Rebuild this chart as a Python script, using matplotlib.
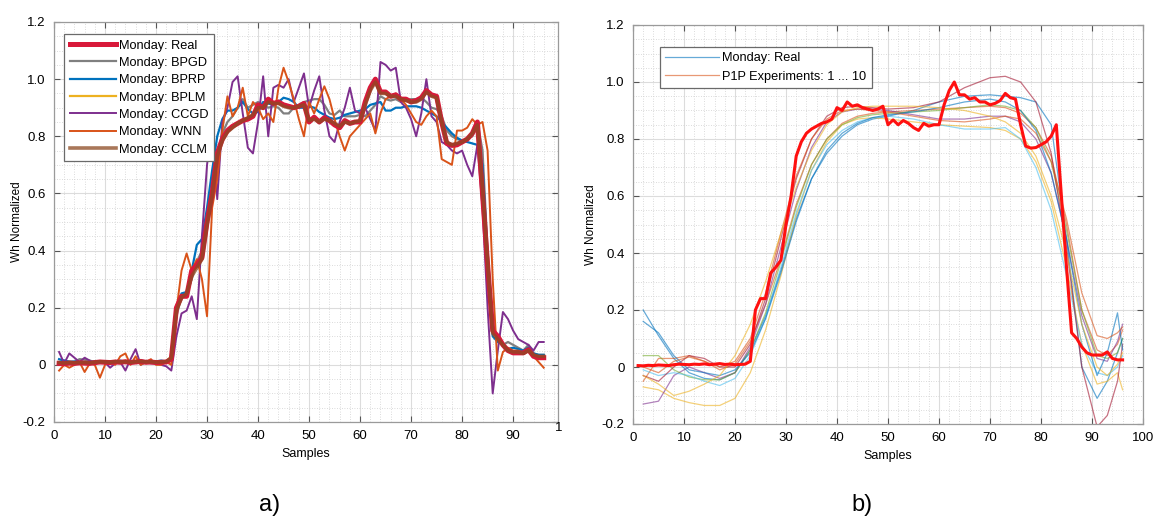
import numpy as np
import matplotlib
matplotlib.use("Agg")
import matplotlib.pyplot as plt
from matplotlib.ticker import MultipleLocator

plt.rcParams['font.family'] = ['Liberation Sans', 'DejaVu Sans']

# ---------------- panel a) data (samples 1..96) ----------------
samples = list(range(1, 97))

real = [0.005, 0.004, 0.006, 0.005, 0.007, 0.006, 0.005, 0.008, 0.010, 0.009, 0.008,
        0.010, 0.009, 0.011, 0.008, 0.010, 0.012, 0.009, 0.010, 0.008, 0.009, 0.010,
        0.02, 0.20, 0.24, 0.24, 0.33, 0.35, 0.375, 0.50, 0.60, 0.74, 0.79, 0.82, 0.835,
        0.845, 0.855, 0.86, 0.87, 0.91, 0.90, 0.93, 0.915, 0.92, 0.91, 0.905, 0.90,
        0.905, 0.915, 0.85, 0.867, 0.85, 0.865, 0.855, 0.84, 0.83, 0.855, 0.845, 0.85,
        0.85, 0.92, 0.97, 1.00, 0.955, 0.955, 0.94, 0.945, 0.93, 0.93, 0.92, 0.925,
        0.935, 0.96, 0.945, 0.94, 0.85, 0.775, 0.768, 0.77, 0.78, 0.79, 0.81, 0.85,
        0.60, 0.35, 0.12, 0.10, 0.07, 0.05, 0.042, 0.042, 0.042, 0.053, 0.03, 0.025, 0.025]

bpgd = [0.010, 0.015, 0.012, 0.010, 0.020, 0.018, 0.015, 0.010, 0.008, 0.010, 0.012,
        0.010, 0.008, 0.010, 0.012, 0.010, 0.008, 0.010, 0.012, 0.010, 0.008, 0.010,
        0.02, 0.17, 0.24, 0.25, 0.30, 0.36, 0.40, 0.50, 0.62, 0.74, 0.81, 0.85, 0.87,
        0.90, 0.93, 0.90, 0.91, 0.92, 0.91, 0.90, 0.905, 0.90, 0.88, 0.88, 0.90, 0.91,
        0.92, 0.925, 0.93, 0.93, 0.91, 0.88, 0.875, 0.89, 0.87, 0.87, 0.87, 0.875,
        0.87, 0.89, 0.91, 0.94, 0.93, 0.925, 0.93, 0.92, 0.925, 0.93, 0.93, 0.935,
        0.92, 0.90, 0.895, 0.87, 0.82, 0.80, 0.79, 0.785, 0.79, 0.80, 0.85, 0.75,
        0.40, 0.12, 0.09, 0.07, 0.08, 0.07, 0.06, 0.05, 0.07, 0.04, 0.035, 0.035]

bprp = [0.020, 0.015, 0.010, 0.012, 0.010, 0.008, 0.010, 0.012, 0.010, 0.008, 0.010,
        0.012, 0.015, 0.010, 0.012, 0.010, 0.015, 0.012, 0.010, 0.012, 0.015, 0.012,
        0.02, 0.20, 0.25, 0.255, 0.33, 0.42, 0.44, 0.55, 0.68, 0.80, 0.86, 0.89, 0.89,
        0.90, 0.92, 0.895, 0.88, 0.885, 0.92, 0.915, 0.91, 0.92, 0.935, 0.93, 0.92,
        0.90, 0.90, 0.905, 0.90, 0.885, 0.875, 0.865, 0.86, 0.865, 0.875, 0.88, 0.885,
        0.89, 0.895, 0.91, 0.915, 0.92, 0.89, 0.89, 0.90, 0.90, 0.905, 0.905, 0.905,
        0.90, 0.89, 0.88, 0.87, 0.85, 0.83, 0.81, 0.795, 0.785, 0.78, 0.775, 0.77,
        0.70, 0.38, 0.10, 0.08, 0.07, 0.056, 0.06, 0.055, 0.05, 0.06, 0.04, 0.035, 0.035]

bplm = [0.006, 0.005, 0.007, 0.006, 0.008, 0.007, 0.006, 0.009, 0.010, 0.010, 0.009,
        0.011, 0.010, 0.012, 0.009, 0.011, 0.012, 0.010, 0.011, 0.009, 0.010, 0.011,
        0.03, 0.21, 0.24, 0.245, 0.32, 0.35, 0.38, 0.51, 0.61, 0.73, 0.79, 0.815, 0.83,
        0.845, 0.855, 0.865, 0.875, 0.905, 0.90, 0.925, 0.915, 0.915, 0.91, 0.905, 0.90,
        0.905, 0.91, 0.855, 0.865, 0.85, 0.862, 0.855, 0.842, 0.835, 0.852, 0.845, 0.85,
        0.852, 0.915, 0.965, 0.99, 0.955, 0.95, 0.94, 0.942, 0.93, 0.928, 0.92, 0.922,
        0.935, 0.955, 0.945, 0.935, 0.85, 0.78, 0.77, 0.772, 0.78, 0.79, 0.81, 0.845,
        0.62, 0.36, 0.12, 0.10, 0.072, 0.052, 0.045, 0.044, 0.043, 0.052, 0.032, 0.03, 0.03]

ccgd = [0.045, 0.005, 0.040, 0.025, 0.010, 0.025, 0.015, 0.000, 0.012, 0.008, -0.010,
        0.005, 0.010, -0.020, 0.020, 0.055, 0.000, 0.010, 0.005, 0.005, 0.000, -0.005,
        -0.02, 0.10, 0.18, 0.19, 0.24, 0.16, 0.45, 0.70, 0.85, 0.58, 0.85, 0.90, 0.99,
        1.01, 0.88, 0.76, 0.74, 0.85, 1.01, 0.80, 0.97, 0.98, 0.97, 1.00, 0.92, 0.97,
        1.02, 0.90, 0.96, 1.01, 0.89, 0.80, 0.78, 0.85, 0.90, 0.97, 0.89, 0.88, 0.90,
        0.86, 0.82, 1.06, 1.05, 1.03, 1.04, 0.92, 0.90, 0.86, 0.80, 0.88, 1.00, 0.87,
        0.85, 0.78, 0.77, 0.75, 0.74, 0.75, 0.70, 0.66, 0.77, 0.55, 0.20, -0.10, 0.05,
        0.185, 0.16, 0.12, 0.09, 0.08, 0.07, 0.05, 0.08, 0.08]

wnn = [-0.020, 0.000, -0.010, 0.000, 0.010, -0.025, 0.005, 0.000, -0.045, 0.000, 0.010,
       0.000, 0.030, 0.040, 0.000, 0.030, 0.000, 0.010, 0.020, 0.000, 0.000, 0.010,
       0.00, 0.19, 0.33, 0.39, 0.33, 0.37, 0.30, 0.17, 0.55, 0.65, 0.82, 0.94, 0.87,
       0.90, 0.97, 0.87, 0.92, 0.90, 0.86, 0.88, 0.85, 0.97, 1.04, 0.99, 0.93, 0.86,
       0.80, 0.92, 0.88, 0.93, 0.975, 0.93, 0.86, 0.80, 0.75, 0.80, 0.82, 0.84, 0.86,
       0.88, 0.81, 0.88, 0.93, 0.94, 0.95, 0.93, 0.91, 0.88, 0.85, 0.84, 0.87, 0.89,
       0.87, 0.72, 0.71, 0.70, 0.82, 0.82, 0.83, 0.86, 0.84, 0.85, 0.75, 0.30, -0.02,
       0.045, 0.06, 0.05, 0.05, 0.04, 0.05, 0.03, 0.01, -0.01]

cclm = [0.008, 0.006, 0.008, 0.007, 0.008, 0.008, 0.007, 0.009, 0.011, 0.010, 0.009,
        0.011, 0.010, 0.011, 0.009, 0.011, 0.012, 0.010, 0.011, 0.009, 0.010, 0.011,
        0.025, 0.19, 0.235, 0.25, 0.31, 0.34, 0.37, 0.49, 0.59, 0.73, 0.785, 0.815, 0.83,
        0.845, 0.855, 0.865, 0.875, 0.90, 0.90, 0.92, 0.915, 0.915, 0.905, 0.90, 0.90,
        0.905, 0.91, 0.855, 0.86, 0.85, 0.86, 0.855, 0.845, 0.835, 0.85, 0.845, 0.85,
        0.855, 0.91, 0.96, 0.99, 0.95, 0.95, 0.94, 0.94, 0.93, 0.925, 0.92, 0.92,
        0.93, 0.955, 0.94, 0.935, 0.85, 0.78, 0.77, 0.775, 0.78, 0.79, 0.81, 0.84,
        0.62, 0.36, 0.11, 0.09, 0.07, 0.05, 0.045, 0.045, 0.04, 0.05, 0.035, 0.03, 0.03]

series_a = ["Monday: Real", "Monday: BPGD", "Monday: BPRP", "Monday: BPLM",
            "Monday: CCGD", "Monday: WNN", "Monday: CCLM"]

# ---------------- panel b) data ----------------
x_exp = [2, 5, 8, 11, 14, 17, 20, 23, 26, 29, 32, 35, 38, 41, 44, 47, 50, 55, 60, 65,
         70, 73, 76, 79, 82, 85, 88, 91, 93, 95, 96]

exp1 = [0.20, 0.11, 0.03, -0.02, -0.04, -0.045, -0.02, 0.06, 0.18, 0.34, 0.52, 0.66,
        0.75, 0.81, 0.85, 0.87, 0.88, 0.90, 0.93, 0.95, 0.955, 0.95, 0.945, 0.93, 0.85,
        0.45, 0.0, -0.11, -0.05, 0.05, 0.10]
exp2 = [-0.05, 0.03, 0.03, 0.04, 0.02, -0.01, 0.01, 0.09, 0.22, 0.38, 0.57, 0.71,
        0.80, 0.855, 0.88, 0.89, 0.895, 0.90, 0.905, 0.91, 0.915, 0.91, 0.89, 0.84, 0.74,
        0.50, 0.20, 0.06, 0.04, 0.08, 0.13]
exp3 = [-0.07, -0.08, -0.11, -0.125, -0.135, -0.135, -0.11, -0.02, 0.13, 0.32, 0.53,
        0.69, 0.79, 0.85, 0.87, 0.875, 0.87, 0.86, 0.85, 0.845, 0.84, 0.83, 0.80, 0.72,
        0.58, 0.35, 0.08, -0.06, -0.05, -0.02, -0.08]
exp4 = [-0.13, -0.12, -0.03, 0.0, -0.02, -0.04, -0.02, 0.07, 0.22, 0.42, 0.62, 0.77,
        0.86, 0.895, 0.905, 0.905, 0.90, 0.885, 0.87, 0.87, 0.88, 0.88, 0.86, 0.80, 0.68,
        0.45, 0.18, 0.03, 0.02, 0.09, 0.15]
exp5 = [0.04, 0.04, -0.01, -0.035, -0.045, -0.045, -0.02, 0.06, 0.19, 0.37, 0.56, 0.71,
        0.80, 0.85, 0.875, 0.885, 0.89, 0.895, 0.90, 0.91, 0.92, 0.915, 0.90, 0.84, 0.72,
        0.48, 0.20, 0.04, 0.03, 0.05, 0.10]
exp6 = [-0.01, -0.03, -0.02, -0.03, -0.05, -0.065, -0.04, 0.04, 0.17, 0.35, 0.54, 0.69,
        0.78, 0.83, 0.86, 0.875, 0.88, 0.87, 0.85, 0.835, 0.835, 0.84, 0.80, 0.70, 0.55,
        0.32, 0.08, -0.02, -0.03, 0.0, 0.04]
exp7 = [-0.03, -0.05, 0.0, 0.04, 0.03, 0.0, 0.0, 0.08, 0.24, 0.45, 0.66, 0.80, 0.88,
        0.91, 0.915, 0.91, 0.905, 0.91, 0.93, 0.98, 1.015, 1.02, 1.0, 0.93, 0.75, 0.42,
        0.0, -0.21, -0.17, -0.05, 0.08]
exp8 = [0.16, 0.12, 0.04, -0.01, -0.02, -0.03, -0.01, 0.05, 0.17, 0.33, 0.51, 0.66,
        0.76, 0.82, 0.855, 0.875, 0.885, 0.895, 0.91, 0.93, 0.94, 0.93, 0.90, 0.83, 0.68,
        0.45, 0.15, -0.03, 0.05, 0.19, 0.06]
exp9 = [0.0, -0.02, 0.02, 0.035, 0.02, 0.0, 0.02, 0.10, 0.26, 0.47, 0.67, 0.80, 0.87,
        0.90, 0.905, 0.90, 0.895, 0.88, 0.865, 0.86, 0.87, 0.88, 0.87, 0.82, 0.72, 0.52,
        0.26, 0.11, 0.10, 0.12, 0.14]
exp10 = [-0.03, -0.06, -0.10, -0.085, -0.06, -0.03, 0.04, 0.15, 0.30, 0.47, 0.63, 0.76,
         0.85, 0.895, 0.91, 0.915, 0.915, 0.915, 0.91, 0.90, 0.88, 0.86, 0.82, 0.74,
         0.60, 0.40, 0.15, 0.0, -0.03, 0.01, 0.05]
experiments = [exp1, exp2, exp3, exp4, exp5, exp6, exp7, exp8, exp9, exp10]

exp_colors = ["#0072BD", "#D95319", "#EDB120", "#7E2F8E", "#77AC30",
              "#4DBEEE", "#A2142F", "#0072BD", "#D95319", "#EDB120"]


def style_axes(ax, xmax):
    ax.set_xlim(0, xmax)
    ax.set_ylim(-0.2, 1.2)
    ax.xaxis.set_major_locator(MultipleLocator(10))
    ax.xaxis.set_minor_locator(MultipleLocator(2))
    ax.yaxis.set_major_locator(MultipleLocator(0.2))
    ax.yaxis.set_minor_locator(MultipleLocator(0.05))
    ax.grid(True, which='major', color='#dcdcdc', linewidth=0.8, linestyle='-')
    ax.grid(True, which='minor', color='#cfcfcf', linewidth=0.6, linestyle=(0, (1, 2)))
    ax.set_axisbelow(True)
    ax.tick_params(which='major', direction='in', length=4, top=True, right=True,
                   labelsize=9.5, color='#555555', pad=6)
    ax.tick_params(which='minor', length=0)
    for s in ax.spines.values():
        s.set_color('#9a9a9a')
        s.set_linewidth(0.9)
    ax.yaxis.set_major_formatter(
        matplotlib.ticker.FuncFormatter(lambda v, p: '0' if abs(v) < 1e-9 else f'{v:.1f}'))
    ax.set_xlabel('Samples', fontsize=9)
    ax.set_ylabel('Wh Normalized', fontsize=8.5)


fig = plt.figure(figsize=(11.58, 5.22), dpi=100)

# ---------- a) ----------
ax1 = fig.add_axes([54 / 1158, 100 / 522, 504 / 1158, 400 / 522])
style_axes(ax1, 98.8)
ax1.set_xticks(range(0, 100, 10))
ax1.text(98.3, -0.2, '1', fontsize=9.5, ha='left', va='top',
         transform=ax1.transData, color='black')
ax1.yaxis.set_label_coords(-0.062, 0.5)
ax1.xaxis.labelpad = 4

h_real, = ax1.plot(samples, real, color='#D8193A', lw=3.6, zorder=6)
h_bpgd, = ax1.plot(samples, bpgd, color='#808080', lw=1.6, zorder=3)
h_bprp, = ax1.plot(samples, bprp, color='#0072BD', lw=1.6, zorder=3)
h_bplm, = ax1.plot(samples, bplm, color='#EDB120', lw=1.6, zorder=3)
h_ccgd, = ax1.plot(samples, ccgd, color='#7E2F8E', lw=1.4, zorder=4)
h_wnn, = ax1.plot(samples, wnn, color='#D95319', lw=1.4, zorder=4)
h_cclm, = ax1.plot(samples, cclm, color='#8C4A22', lw=2.6, alpha=0.75, zorder=7)

leg1 = ax1.legend([h_real, h_bpgd, h_bprp, h_bplm, h_ccgd, h_wnn, h_cclm], series_a,
                  loc='upper left', bbox_to_anchor=(0.008, 0.985), fontsize=9.2,
                  handlelength=3.6, labelspacing=0.42, borderpad=0.4, handletextpad=0.3,
                  fancybox=False, framealpha=1, edgecolor='#6a6a6a')
leg1.get_frame().set_linewidth(0.9)
leg1.set_zorder(10)

# ---------- b) ----------
ax2 = fig.add_axes([633 / 1158, 98 / 522, 510 / 1158, 399 / 522])
style_axes(ax2, 100)
ax2.yaxis.set_label_coords(-0.07, 0.5)

labels_b = ["Monday: Real", "P1P Experiments: 1 ... 10"]
for i, (ys, c) in enumerate(zip(experiments, exp_colors)):
    lab = labels_b[i] if i < 2 else None
    ax2.plot(x_exp, ys, color=c, lw=0.9, alpha=0.6, label=lab, zorder=3)
ax2.plot(samples, real, color='#FF1010', lw=2.2, zorder=6)

leg2 = ax2.legend(loc='upper left', bbox_to_anchor=(0.04, 0.96), fontsize=9.2,
                  handlelength=4.2, labelspacing=0.5, borderpad=0.4, handletextpad=0.3,
                  fancybox=False, framealpha=1, edgecolor='#6a6a6a')
leg2.get_frame().set_linewidth(0.9)

# captions
fig.text(270 / 1158, 1 - 505 / 522, 'a)', fontsize=17, ha='center', va='center')
fig.text(862 / 1158, 1 - 505 / 522, 'b)', fontsize=17, ha='center', va='center')

fig.savefig('out.png', dpi=100, facecolor='white')
